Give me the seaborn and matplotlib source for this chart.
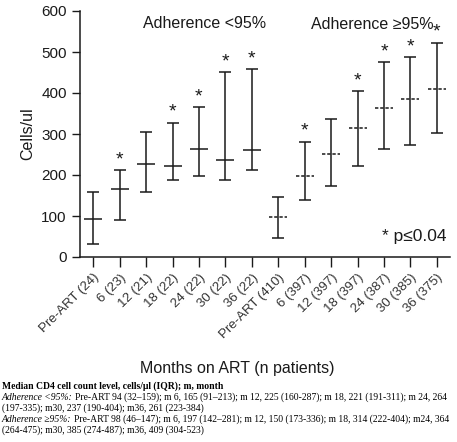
import matplotlib
matplotlib.use("Agg")
import matplotlib.pyplot as plt
import seaborn as sns
import numpy as np
import pandas as pd

# ---- data ----
labels = ["Pre-ART (24)", "6 (23)", "12 (21)", "18 (22)", "24 (22)", "30 (22)", "36 (22)",
          "Pre-ART (410)", "6 (397)", "12 (397)", "18 (397)", "24 (387)", "30 (385)", "36 (375)"]
median_low = [93, 165, 226, 221, 263, 236, 260]
q1_low = [31, 90, 158, 189, 197, 189, 211]
q3_low = [158, 212, 306, 328, 365, 451, 458]
sig_low = [False, True, False, True, True, True, True]
median_high = [97, 197, 250, 314, 364, 385, 409]
q1_high = [46, 140, 172, 221, 264, 273, 303]
q3_high = [146, 281, 337, 404, 475, 487, 523]
sig_high = [False, True, False, True, True, True, True]

df = pd.DataFrame({
    "label": labels,
    "median": median_low + median_high,
    "q1": q1_low + q1_high,
    "q3": q3_low + q3_high,
    "sig": sig_low + sig_high,
    "group": ["<95%"] * 7 + [">=95%"] * 7,
})
df["x"] = np.arange(len(df))

sns.set_style("ticks")
plt.rcParams["font.family"] = ["Liberation Sans", "DejaVu Sans"]

fig = plt.figure(figsize=(4.57, 4.42), dpi=100)
ax = fig.add_axes([0.175, 1 - 257 / 442, 0.81, (257 - 11) / 442])

ink = "#1a1a1a"
for _, r in df.iterrows():
    ax.errorbar(r["x"], r["median"], yerr=[[r["median"] - r["q1"]], [r["q3"] - r["median"]]],
                fmt="none", ecolor=ink, elinewidth=1.1, capsize=4, capthick=1.1)
    ls = "-" if r["group"] == "<95%" else (0, (2.2, 1.2))
    ax.hlines(r["median"], r["x"] - 0.34, r["x"] + 0.34, colors=ink, linewidth=1.1, linestyles=ls)
    if r["sig"]:
        ax.annotate("*", (r["x"], r["q3"]), xytext=(0, 1.5), textcoords="offset points",
                    ha="center", va="bottom", fontsize=14, color=ink)

ax.set_xlim(-0.5, 13.5)
ax.set_ylim(0, 600)
ax.set_yticks(range(0, 601, 100))
ax.set_xticks(df["x"])
ax.set_xticklabels(df["label"], rotation=45, ha="right", rotation_mode="anchor", fontsize=9.5)
ax.tick_params(axis="y", labelsize=11, length=6, width=1, color=ink, labelcolor=ink)
ax.tick_params(axis="x", length=7, width=1, color=ink, labelcolor="#333333")
for s in ["left", "bottom"]:
    ax.spines[s].set_linewidth(1.1)
    ax.spines[s].set_color(ink)
sns.despine(ax=ax)
ax.set_ylabel("Cells/ul", fontsize=11.5, color=ink, labelpad=4)
ax.set_xlabel("")

ax.text(0.17, 0.95, "Adherence <95%", transform=ax.transAxes, fontsize=11.5, color=ink, va="center")
ax.text(0.625, 0.945, "Adherence ≥95%", transform=ax.transAxes, fontsize=11.5, color=ink, va="center")
ax.text(0.99, 0.085, "* p≤0.04", transform=ax.transAxes, fontsize=12.5, color=ink, va="center", ha="right")

fig.text(237 / 457, 1 - 373 / 442, "Months on ART (n patients)", ha="center", va="baseline",
         fontsize=11.5, color=ink)

# ---- caption ----
serif = ["Liberation Serif", "DejaVu Serif"]
cfs = 6.95
x0 = 2 / 457
def ypos(py):
    return 1 - py / 442

fig.text(x0, ypos(389), "Median CD4 cell count level, cells/μl (IQR); m, month", family=serif,
         fontsize=cfs, weight="bold", va="baseline", color="black")

def mixed(py, italic, normal):
    fig.canvas.draw()
    t = fig.text(x0, ypos(py), italic, family=serif, fontsize=cfs, style="italic",
                 va="baseline", color="black")
    bb = t.get_window_extent(renderer=fig.canvas.get_renderer())
    fig.text(bb.x1 / fig.bbox.width + 2 / 457, ypos(py), normal, family=serif, fontsize=cfs,
             va="baseline", ha="left", color="black")

mixed(400, "Adherence <95%:",
      "Pre-ART 94 (32–159); m 6, 165 (91–213); m 12, 225 (160-287); m 18, 221 (191-311); m 24, 264")
fig.text(x0, ypos(411), "(197-335); m30, 237 (190-404); m36, 261 (223-384)", family=serif,
         fontsize=cfs, va="baseline", color="black")
mixed(422, "Adherence ≥95%:",
      "Pre-ART 98 (46–147); m 6, 197 (142–281); m 12, 150 (173-336); m 18, 314 (222-404); m24, 364")
fig.text(x0, ypos(433), "(264-475); m30, 385 (274-487); m36, 409 (304-523)", family=serif,
         fontsize=cfs, va="baseline", color="black")

fig.savefig("out.png", dpi=100)
